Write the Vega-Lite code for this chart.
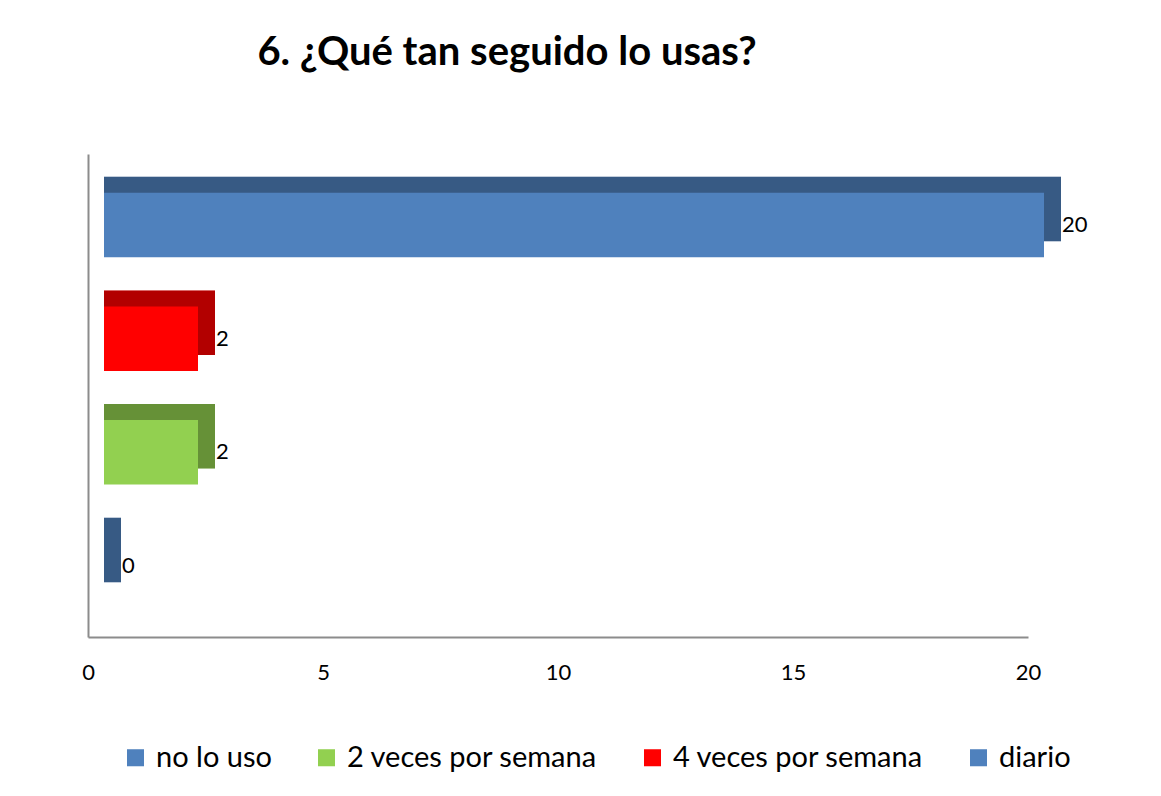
{
  "$schema": "https://vega.github.io/schema/vega-lite/v6.json",
  "autosize": "none",
  "padding": {"left": 88, "top": 154, "right": 133, "bottom": 159},
  "width": 940,
  "height": 483,
  "background": "white",
  "config": {"view": {"stroke": null}, "font": "Lato"},
  "title": {"text": "6. ¿Qué tan seguido lo usas?", "fontSize": 40, "font": "Lato", "fontWeight": "bold", "color": "#000000", "anchor": "middle", "dx": -51, "offset": 81},
  "data": {"values": [
    {"categoria": "diario", "valor": 20},
    {"categoria": "4 veces por semana", "valor": 2},
    {"categoria": "2 veces por semana", "valor": 2},
    {"categoria": "no lo uso", "valor": 0}
  ]},
  "encoding": {
    "y": {"field": "categoria", "type": "nominal", "sort": ["diario", "4 veces por semana", "2 veces por semana", "no lo uso"],
      "scale": {"paddingInner": 0.433, "paddingOuter": 0.34},
      "axis": {"title": null, "labels": false, "ticks": false, "domainColor": "#8c8c8c", "domainWidth": 2}},
    "x": {"field": "valor", "type": "quantitative", "stack": null,
      "scale": {"domain": [0, 20], "nice": false, "zero": true},
      "axis": {"title": null, "values": [0, 5, 10, 15, 20], "ticks": false, "grid": false, "labelFlush": false, "domainColor": "#8c8c8c", "domainWidth": 2, "labelFontSize": 22, "labelColor": "#000000", "labelPadding": 25, "labelFont": "Lato"}}
  },
  "layer": [
    {"mark": {"type": "bar", "xOffset": 33, "x2Offset": 16, "yOffset": -16},
      "encoding": {"x2": {"datum": 0},
        "color": {"field": "categoria", "type": "nominal",
        "scale": {"domain": ["no lo uso", "2 veces por semana", "4 veces por semana", "diario"], "range": ["#4F81BD", "#92D050", "#FF0000", "#4F81BD"]},
        "legend": {"title": null, "orient": "none", "legendX": 33, "legendY": 589, "direction": "horizontal", "symbolType": "square", "symbolSize": 290, "symbolStrokeWidth": 0, "labelFontSize": 29, "labelFont": "Lato", "labelColor": "#000000", "labelOffset": 6, "columnPadding": 40, "labelLimit": 400}}}},
    {"mark": {"type": "bar", "xOffset": 33, "x2Offset": 16, "yOffset": -16, "color": "#000000", "opacity": 0.3},
      "encoding": {"x2": {"datum": 0}}},
    {"mark": {"type": "bar", "xOffset": 16, "x2Offset": 16},
      "encoding": {"x2": {"datum": 0}, "color": {"field": "categoria", "type": "nominal"}}},
    {"mark": {"type": "text", "align": "left", "baseline": "middle", "dx": 34, "fontSize": 22, "font": "Lato", "color": "#000000"},
      "encoding": {"text": {"field": "valor", "type": "quantitative"}}}
  ]
}
